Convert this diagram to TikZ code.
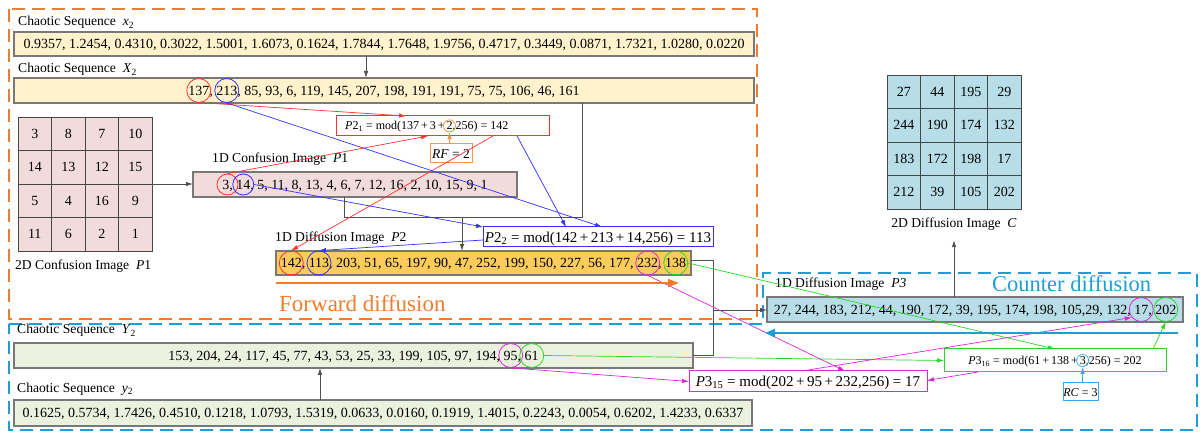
\documentclass[tikz,border=0pt]{standalone}
\usepackage{fontspec}
\setmainfont{Liberation Serif}
\usetikzlibrary{arrows.meta,calc,fit}
\definecolor{ordash}{RGB}{240,125,45}
\definecolor{bldash}{RGB}{30,158,214}
\definecolor{yelfill}{RGB}{255,242,204}
\definecolor{pinkfill}{RGB}{242,220,219}
\definecolor{goldfill}{RGB}{250,204,92}
\definecolor{bluefill}{RGB}{183,222,232}
\definecolor{greenfill}{RGB}{235,241,222}
\definecolor{boxgray}{RGB}{120,120,120}
\definecolor{gridgray}{RGB}{70,70,70}
\definecolor{linegray}{RGB}{80,80,80}
\definecolor{lred}{RGB}{255,50,50}
\definecolor{lblue}{RGB}{50,50,255}
\definecolor{lgreen}{RGB}{40,215,40}
\definecolor{lmag}{RGB}{215,40,215}
\definecolor{lorange}{RGB}{247,150,70}
\definecolor{lcyan}{RGB}{60,170,230}
\newcommand{\fSeq}{\fontsize{14}{16}\selectfont}
\newcommand{\fLab}{\fontsize{13.6}{16}\selectfont}
\newcommand{\fBigA}{\fontsize{23}{26}\selectfont}
\newcommand{\fBigB}{\fontsize{22.5}{26}\selectfont}
\newcommand{\fSm}{\fontsize{12}{14}\selectfont}
\newcommand{\fMd}{\fontsize{15}{17}\selectfont}
\newcommand{\fRF}{\fontsize{13.5}{16}\selectfont}
\begin{document}
\begin{tikzpicture}[x=1pt,y=-1pt,
  box/.style={draw=boxgray, line width=1.1pt, inner sep=0pt, outer sep=0pt},
  fbox/.style={line width=1pt, fill=white, inner sep=0pt, outer sep=0pt},
  seqtxt/.style={font=\fSeq, inner sep=0pt, outer sep=0pt, text height=9.5pt, text depth=0pt},
  ph/.style={inner sep=0pt, outer sep=0pt, anchor=base west, text height=9.5pt, text depth=0pt, font=\fSeq},
  phe/.style={ph, anchor=base east},
  circ/.style={circle, minimum size=24pt, inner sep=0pt, line width=0.8pt},
  lab/.style={font=\fLab, inner sep=0pt, anchor=base west},
  conn/.style={draw=linegray, line width=0.8pt},
  arr/.style={-{Latex[length=7pt,width=4.5pt]}},
  cline/.style={line width=0.7pt, arr},
  cellA/.style={draw=gridgray, fill=pinkfill, line width=0.8pt, minimum size=33.5pt, inner sep=0pt, outer sep=0pt, font=\fSeq},
  cellB/.style={cellA, fill=bluefill},
  dashbox/.style={line width=2pt, dash pattern=on 13pt off 7pt}
]
\path[fill=white] (0,0) rectangle (1202,435);
% dashed regions
\draw[ordash, dashbox] (9,9) rectangle (757,319);
\draw[bldash, dashbox] (9,324) -- (763,324) -- (763,273) -- (1197,273) -- (1197,430) -- (9,430) -- cycle;

% sequence boxes
\node[box, fill=yelfill, fit={(14,32) (754,56)}] (xsb) {};
\node[box, fill=yelfill, fit={(14,78) (754,103)}] (xbb) {};
\node[box, fill=pinkfill, fit={(193,172) (517,197)}] (p1b) {};
\node[box, fill=goldfill, fit={(276,251) (691,275)}] (p2b) {};
\node[box, fill=bluefill, fit={(767,297) (1183,322)}] (p3b) {};
\node[box, fill=greenfill, fit={(14,343) (693,368)}] (ybb) {};
\node[box, fill=greenfill, fit={(14,400) (752,426)}] (ysb) {};

% grids
\foreach \v [count=\i from 0] in {3,8,7,10,14,13,12,15,5,4,16,9,11,6,2,1}{
  \pgfmathtruncatemacro{\rr}{int(\i/4)}
  \pgfmathtruncatemacro{\cc}{mod(\i,4)}
  \node[cellA] (ga-\rr-\cc) at ({18+33.5*\cc+16.75},{117+33.5*\rr+16.75}) {\v};
}
\foreach \v [count=\i from 0] in {27,44,195,29,244,190,174,132,183,172,198,17,212,39,105,202}{
  \pgfmathtruncatemacro{\rr}{int(\i/4)}
  \pgfmathtruncatemacro{\cc}{mod(\i,4)}
  \node[cellB] (gb-\rr-\cc) at ({887+33.5*\cc+16.75},{75+33.5*\rr+16.75}) {\v};
}

% labels
\node[lab] (lxs) at (18,26) {Chaotic Sequence~~\textit{x}\textsubscript{2}};
\node[lab] (lxb) at (18,73) {Chaotic Sequence~~\textit{X}\textsubscript{2}};
\node[lab] (lp1) at (212,163) {1D Confusion Image~~\textit{P}1};
\node[lab] (lg1) at (15,270) {2D Confusion Image~~\textit{P}1};
\node[lab] (lp2) at (275,242) {1D Diffusion Image~~\textit{P}2};
\node[lab] (lp3) at (775,288) {1D Diffusion Image~~\textit{P3}};
\node[lab] (lyb) at (17,334) {Chaotic Sequence~~\textit{Y}\textsubscript{2}};
\node[lab] (lys) at (17,392) {Chaotic Sequence~~\textit{y}\textsubscript{2}};
\node[lab, anchor=base] (lC) at (954,228) {2D Diffusion Image~~\textit{C}};
\node[font=\fBigA, text=ordash, anchor=base west, inner sep=0pt] (fwd) at (279,312) {Forward diffusion};
\node[font=\fBigB, text=bldash, anchor=base west, inner sep=0pt] (ctr) at (992,292) {Counter diffusion};

% gray connectors
\coordinate (ja) at (582,217);
\coordinate (jb) at (344,217);
\coordinate (jc) at (462,217);
\draw[conn] (xbb.south -| ja) -- (ja) -- (jb) -- (jb |- p1b.south);
\draw[conn, arr] (jc) -- (jc |- p2b.north);
\coordinate (ka) at (713,260);
\coordinate (kb) at (713,355);
\coordinate (kc) at (713,310);
\draw[conn] (p2b.east |- ka) -- (ka) -- (kb) -- (kb -| ybb.east);
\draw[conn, arr] (kc) -- (kc -| p3b.west);
\coordinate (xa) at (366,0);
\draw[conn, arr] (xsb.south -| xa) -- (xbb.north -| xa);
\coordinate (ya) at (320,0);
\draw[conn, arr] (ysb.north -| ya) -- (ybb.south -| ya);
\draw[conn, arr] (p3b.north -| lC.south) -- ($(lC.south)+(0,9)$);
\draw[conn, arr] (ga-2-3.north east) -- (ga-2-3.north east -| p1b.west);

% formula boxes
\node[fbox, draw=lred, fit={(336,116) (549,136)}] (p21b) {};
\node[fbox, draw=lorange, fit={(430,144) (472,163)}] (rfb) {};
\node[fbox, draw=lblue, fit={(483,227) (713,247)}] (p22b) {};
\node[fbox, draw=lgreen, fit={(944,349) (1166,372)}] (p316b) {};
\node[fbox, draw=lmag, fit={(689,371) (927,392)}] (p315b) {};
\node[fbox, draw=lcyan, fit={(1063,383) (1098,401)}] (rcb) {};

% sequence texts
\node[seqtxt] (xst) at (xsb.center) {0.9357, 1.2454, 0.4310, 0.3022, 1.5001, 1.6073, 0.1624, 1.7844, 1.7648, 1.9756, 0.4717, 0.3449, 0.0871, 1.7321, 1.0280, 0.0220};
\node[seqtxt] (xbt) at (xbb.center) {137, 213, 85, 93, 6, 119, 145, 207, 198, 191, 191, 75, 75, 106, 46, 161};
\node[seqtxt] (p1t) at (p1b.center) {3, 14, 5, 11, 8, 13, 4, 6, 7, 12, 16, 2, 10, 15, 9, 1};
\node[seqtxt] (p2t) at (p2b.center) {142, 113, 203, 51, 65, 197, 90, 47, 252, 199, 150, 227, 56, 177, 232, 138};
\node[seqtxt] (p3t) at (p3b.center) {27, 244, 183, 212, 44, 190, 172, 39, 195, 174, 198, 105,29, 132, 17, 202};
\node[seqtxt] (ybt) at (ybb.center) {153, 204, 24, 117, 45, 77, 43, 53, 25, 33, 199, 105, 97, 194, 95, 61};
\node[seqtxt] (yst) at (ysb.center) {0.1625, 0.5734, 1.7426, 0.4510, 0.1218, 1.0793, 1.5319, 0.0633, 0.0160, 0.1919, 1.4015, 0.2243, 0.0054, 0.6202, 1.4233, 0.6337};

% formula texts
\node[font=\fSm, inner sep=0pt, anchor=base west] (p21t) at (345,130) {\textit{P}2\textsubscript{1} = mod(137\,+\,3\,+\,2,256) = 142};
\node[font=\fRF, inner sep=0pt, text height=9.2pt, text depth=0pt] (rft) at (rfb.center) {\textit{RF} = 2};
\node[font=\fMd, inner sep=0pt, text height=10.2pt, text depth=0pt] (p22t) at (p22b.center) {\textit{P}2\textsubscript{2} = mod(142\,+\,213\,+\,14,256) = 113};
\node[font=\fSm, inner sep=0pt, text height=8.2pt, text depth=0pt] (p316t) at (p316b.center) {\textit{P}3\textsubscript{16} = mod(61\,+\,138\,+\,3,256) = 202};
\node[font=\fMd, inner sep=0pt, text height=10.2pt, text depth=0pt] (p315t) at (p315b.center) {\textit{P}3\textsubscript{15} = mod(202\,+\,95\,+\,232,256) = 17};
\node[font=\fSm, inner sep=0pt, text height=8.2pt, text depth=0pt] (rct) at (rcb.center) {\textit{RC} = 3};

% phantom anchors
\node[ph] (h137) at (xbt.base west) {\phantom{137}};
\node[ph] (h213p) at (xbt.base west) {\phantom{137,\ }};
\node[ph] (h213) at (h213p.base east) {\phantom{213}};
\node[ph] (h3) at (p1t.base west) {\phantom{3,}};
\node[ph] (h14p) at (p1t.base west) {\phantom{3,\ }};
\node[ph] (h14) at (h14p.base east) {\phantom{14}};
\node[ph] (h142) at (p2t.base west) {\phantom{142}};
\node[ph] (h113p) at (p2t.base west) {\phantom{142,\ }};
\node[ph] (h113) at (h113p.base east) {\phantom{113}};
\node[phe] (h138) at (p2t.base east) {\phantom{138}};
\node[phe] (h232s) at (p2t.base east) {\phantom{,\ 138}};
\node[phe] (h232) at (h232s.base west) {\phantom{232}};
\node[phe] (h202) at (p3t.base east) {\phantom{202}};
\node[phe] (h17s) at (p3t.base east) {\phantom{,\ 202}};
\node[phe] (h17) at (h17s.base west) {\phantom{17}};
\node[phe] (h61) at (ybt.base east) {\phantom{61}};
\node[phe] (h95s) at (ybt.base east) {\phantom{,\ 61}};
\node[phe] (h95) at (h95s.base west) {\phantom{95}};
\node[ph, font=\fSm, text height=8.2pt] (f2p) at (p21t.base west) {\phantom{\textit{P}2\textsubscript{1} = mod(137\,+\,3\,+\,}};
\node[ph, font=\fSm, text height=8.2pt] (f2) at (f2p.base east) {\phantom{2}};
\node[ph, font=\fSm, text height=8.2pt] (f3p) at (p316t.base west) {\phantom{\textit{P}3\textsubscript{16} = mod(61\,+\,138\,+\,}};
\node[ph, font=\fSm, text height=8.2pt] (f3) at (f3p.base east) {\phantom{3}};

% circles
\node[circ, draw=lred] (c137) at (h137.center) {};
\node[circ, draw=lblue] (c213) at (h213.center) {};
\node[circ, draw=lred, minimum size=21pt] (c3) at (h3.center) {};
\node[circ, draw=lblue, minimum size=21pt] (c14) at (h14.center) {};
\node[circ, draw=lred] (c142) at (h142.center) {};
\node[circ, draw=lblue] (c113) at (h113.center) {};
\node[circ, draw=lmag] (c232) at (h232.center) {};
\node[circ, draw=lgreen] (c138) at (h138.center) {};
\node[circ, draw=lmag] (c17) at (h17.center) {};
\node[circ, draw=lgreen] (c202) at (h202.center) {};
\node[circ, draw=lmag] (c95) at (h95.center) {};
\node[circ, draw=lgreen] (c61) at (h61.center) {};
\node[circ, draw=lorange, minimum size=12pt] (f2c) at (f2.center) {};
\node[circ, draw=lcyan, minimum size=12pt] (f3c) at (f3.center) {};

% coloured connectors
\draw[lred, cline] (c137.-80) -- ($(p21b.north west)+(70,0)$);
\draw[lred, cline] (c3.north) -- ($(p21b.south west)+(92,0)$);
\draw[lred, cline] ($(p21b.south west)+(157,0)$) -- (c142.north);
\draw[lblue, cline] (c213.south) -- ($(p22b.north west)+(119,0)$);
\draw[lblue, cline] ($(p21b.south west)+(181,0)$) -- ($(p22b.north west)+(83,0)$);
\draw[lblue, cline] (c14.east) -- (p22b.north west);
\draw[lblue, cline] ($(p22b.west)+(0,3)$) -- (c113.north);
\draw[lgreen, cline] (c138.east) -- ($(p316b.north west)+(111,0)$);
\draw[lgreen, cline] (c61.east) -- (p316b.west);
\draw[lgreen, cline] ($(p316b.north east)+(-13,0)$) -- (c202.south);
\draw[lmag, cline] (c232.south) -- ($(p315b.north west)+(156,0)$);
\draw[lmag, cline] (c95.south) -- (p315b.west);
\draw[lmag, cline] ($(p316b.south west)+(34,0)$) -- ($(p315b.east)+(0,-1)$);
\draw[lmag, cline] ($(p315b.north west)+(113,0)$) -- (c17.220);
\draw[lorange, cline] (rfb.north -| f2c) -- (f2c.south);
\draw[lcyan, cline] (rcb.north -| f3c) -- (f3c.south);

% direction arrows
\draw[ordash, line width=2pt, -{Triangle[length=11pt,width=8pt]}] ($(p2b.south west)+(0,8)$) -- ($(p2b.south east)+(-12,8)$);
\draw[bldash, line width=2.5pt, -{Triangle[length=10pt,width=8pt]}] ($(p3b.south east)+(-5,11)$) -- ($(p3b.south west)+(-2,11)$);
\end{tikzpicture}
\end{document}
